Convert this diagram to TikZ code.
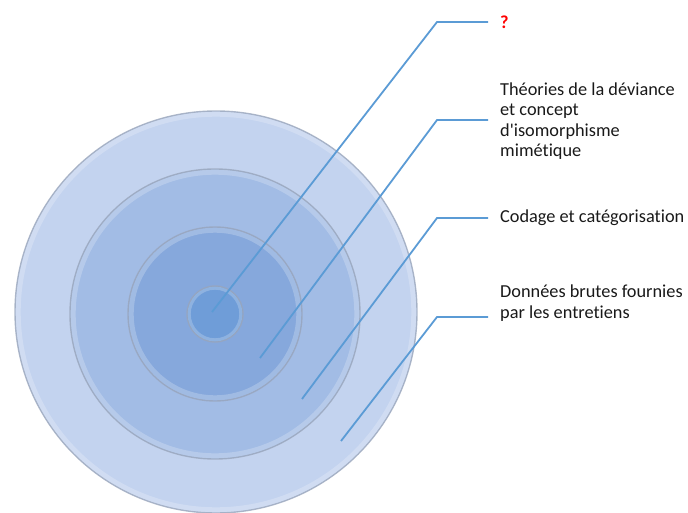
\documentclass[tikz,border=0pt]{standalone}
\usepackage{fontspec}
\setmainfont{Carlito}[Ligatures={NoCommon}]
\usetikzlibrary{positioning}
\definecolor{ringa}{HTML}{C3D3EF}
\definecolor{ringb}{HTML}{A2BCE5}
\definecolor{ringc}{HTML}{86A8DC}
\definecolor{ringd}{HTML}{6F9DD8}
\definecolor{rimc}{HTML}{9AA6BC}
\definecolor{leadc}{HTML}{5B9BD5}
\tikzset{
  ring/.style={circle,draw=rimc,draw opacity=0.8,line width=1.4pt,inner sep=0pt},
  glow/.style={draw=white,draw opacity=0.22,line width=5pt},
  leader/.style={draw=leadc,line width=1.8pt},
  lbl/.style={anchor=west,align=left,inner xsep=12pt,inner ysep=0pt,text=black!90,font=\fontsize{18.3}{20.5}\selectfont},
}

\begin{document}
\begin{tikzpicture}[x=1pt,y=-1pt]
  \useasboundingbox (0,0) rectangle (688,513);
  % cible
  \node[ring,fill=ringa,minimum size=402pt] (outer) at (216,312) {};
  \draw[glow] (outer.center) circle[radius=197.8pt];
  \node[ring,fill=ringb,minimum size=290pt] (middle) at (215,314) {};
  \draw[glow] (middle.center) circle[radius=141.8pt];
  \node[ring,fill=ringc,minimum size=174pt] (inner) at (215,314) {};
  \draw[glow] (inner.center) circle[radius=83.8pt];
  \node[ring,fill=ringd,minimum size=56pt] (core) at (215,314) {};
  \draw[glow,line width=3pt] (core.center) circle[radius=25.8pt];
  % etiquettes
  \node[lbl,text=red,font=\bfseries\fontsize{18.3}{20.5}\selectfont] (quest) at (488,22) {?};
  \node[lbl] (theo) at (488,121) {Théories de la déviance\\et concept\\d\textquotesingle isomorphisme\\mimétique};
  \node[lbl] (coda) at (488,218) {Codage et catégorisation};
  \node[lbl] (donn) at (488,303) {Données brutes fournies\\par les entretiens};
  % traits
  \coordinate (quest-in) at (212,312);
  \coordinate (theo-in) at (260,358);
  \coordinate (coda-in) at (302,399);
  \coordinate (donn-in) at (341,441);
  \coordinate (quest-k) at (437,22);
  \coordinate (theo-k) at (437,120);
  \coordinate (coda-k) at (437,218);
  \coordinate (donn-k) at (437,317);
  \foreach \n in {quest,theo,coda,donn}
    \draw[leader] (\n-in) -- (\n-k) -- (\n-k -| \n.west);
\end{tikzpicture}
\end{document}
